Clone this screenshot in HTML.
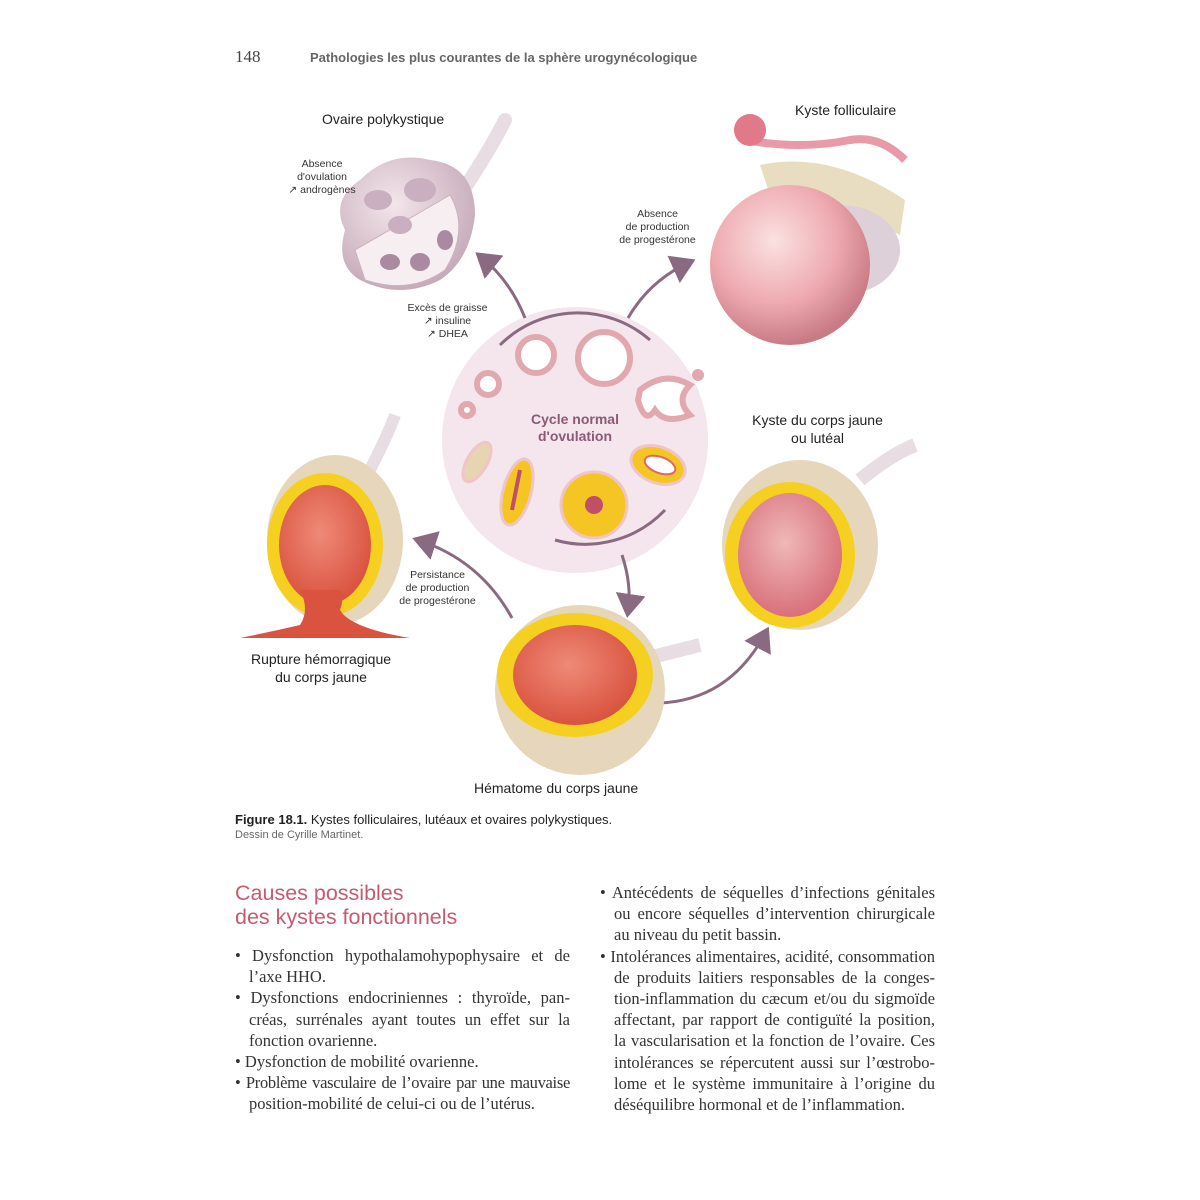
<!DOCTYPE html>
<html><head><meta charset="utf-8"><style>
body{margin:0;width:1200px;height:1200px;background:#fff;position:relative;overflow:hidden;font-family:"Liberation Sans",sans-serif;}
.a{position:absolute;white-space:nowrap;}
.lab{font-size:14px;color:#222;text-align:center;line-height:18px;}
.sm{font-size:10.5px;color:#333;text-align:center;line-height:13px;}
.ser{font-family:"Liberation Serif",serif;font-size:16.5px;color:#333;line-height:21.2px;}
.j{text-align:justify;text-align-last:justify;display:block;white-space:nowrap;}
.col{position:absolute;white-space:nowrap;}
</style></head><body>
<div class="a ser" style="left:235px;top:46px;font-size:17px;color:#444">148</div>
<div class="a" style="left:310px;top:50px;font-size:13px;font-weight:bold;color:#666">Pathologies les plus courantes de la sphère urogynécologique</div>

<svg width="1200" height="800" style="position:absolute;left:0;top:0">
<defs>
<radialGradient id="pk" cx="40%" cy="35%" r="65%"><stop offset="0" stop-color="#fbe1e1"/><stop offset="0.6" stop-color="#eeaab0"/><stop offset="1" stop-color="#c97b85"/></radialGradient>
<radialGradient id="ov" cx="40%" cy="35%" r="70%"><stop offset="0" stop-color="#f3e6ea"/><stop offset="1" stop-color="#c3a7b6"/></radialGradient>
<radialGradient id="bl" cx="45%" cy="40%" r="60%"><stop offset="0" stop-color="#ef8a78"/><stop offset="1" stop-color="#d9533f"/></radialGradient>
<radialGradient id="lu" cx="45%" cy="40%" r="60%"><stop offset="0" stop-color="#f0b8b8"/><stop offset="1" stop-color="#d8707a"/></radialGradient>
<marker id="ar" markerWidth="10" markerHeight="10" refX="6" refY="5" orient="auto"><path d="M0,0 L8,5 L0,10 Z" fill="#8a6a80"/></marker>
</defs>
<circle cx="575" cy="440" r="133" fill="#f4e6ec"/>
<g fill="none" stroke="#8a6a80" stroke-width="3">
<path d="M500,345 A110,110 0 0 1 650,340"/>
<path d="M665,510 A110,110 0 0 1 555,540"/>
<path d="M525,318 Q510,280 480,256" marker-end="url(#ar)"/>
<path d="M628,318 Q650,280 690,262" marker-end="url(#ar)"/>
<path d="M622,555 Q632,585 628,612" marker-end="url(#ar)"/>
<path d="M512,618 Q480,560 418,540" marker-end="url(#ar)"/>
<path d="M660,703 Q730,700 766,632" marker-end="url(#ar)"/>
</g>
<g stroke="#e2a8b0" stroke-width="6" fill="#fff">
<circle cx="536" cy="355" r="18"/><circle cx="604" cy="358" r="26"/>
<circle cx="488" cy="384" r="11"/><circle cx="467" cy="410" r="6"/>
<circle cx="698" cy="375" r="3"/>
</g>
<path d="M640,390 Q665,370 690,385 Q675,400 690,415 Q665,425 655,410 Q645,425 638,400Z" fill="#fff" stroke="#e2a8b0" stroke-width="6"/>
<ellipse cx="477" cy="462" rx="10" ry="22" transform="rotate(30 477 462)" fill="#e6d5b0" stroke="#f0c5ca" stroke-width="3"/>
<ellipse cx="517" cy="492" rx="14" ry="34" transform="rotate(15 517 492)" fill="#f5c523" stroke="#f0c5ca" stroke-width="3"/>
<path d="M520,470 L512,510" stroke="#c0506a" stroke-width="4"/>
<circle cx="594" cy="505" r="33" fill="#f5c523" stroke="#f0c5ca" stroke-width="3"/>
<circle cx="594" cy="505" r="9" fill="#c0506a"/>
<ellipse cx="658" cy="465" rx="28" ry="18" transform="rotate(20 658 465)" fill="#f5c523" stroke="#f0c5ca" stroke-width="3"/>
<ellipse cx="660" cy="465" rx="16" ry="8" transform="rotate(20 660 465)" fill="#fff" stroke="#d66" stroke-width="2"/>
<path d="M460,195 Q490,150 505,120" stroke="#e8dde2" stroke-width="14" fill="none" stroke-linecap="round"/>
<path d="M345,230 Q330,200 360,180 Q390,150 430,160 Q475,165 475,215 Q470,260 440,280 Q400,300 360,280 Q335,265 345,230Z" fill="url(#ov)"/>
<path d="M355,250 L450,195 Q470,230 445,270 Q410,295 365,280Z" fill="#f6eef0" stroke="#ccb0bc"/>
<g fill="#a98aa0"><ellipse cx="390" cy="262" rx="10" ry="8"/><ellipse cx="420" cy="262" rx="10" ry="9"/><ellipse cx="445" cy="240" rx="8" ry="10"/><ellipse cx="378" cy="200" rx="14" ry="10" fill="#c9afc0"/><ellipse cx="420" cy="190" rx="16" ry="12" fill="#c9afc0"/><ellipse cx="400" cy="225" rx="12" ry="9" fill="#c9afc0"/></g>
<path d="M760,165 Q830,150 905,200 L900,235 Q830,200 770,195Z" fill="#e8ddc0"/>
<path d="M745,140 Q800,150 850,140 Q880,135 905,160" stroke="#e89aa8" stroke-width="8" fill="none"/>
<circle cx="750" cy="130" r="16" fill="#e07a88"/>
<ellipse cx="840" cy="250" rx="60" ry="45" fill="#ddd0d8"/>
<circle cx="790" cy="265" r="80" fill="url(#pk)"/>
<path d="M370,470 Q390,430 395,415" stroke="#e8dde2" stroke-width="12" fill="none"/>
<ellipse cx="335" cy="540" rx="68" ry="85" fill="#e6d6bc"/>
<ellipse cx="325" cy="545" rx="58" ry="72" fill="#f5d020"/>
<ellipse cx="325" cy="545" rx="46" ry="60" fill="url(#bl)"/>
<path d="M300,590 Q310,610 300,625 Q270,632 240,638 L410,638 Q350,628 340,610 Q345,595 340,590Z" fill="#d9533f"/>
<path d="M640,660 Q680,650 700,645" stroke="#e8dde2" stroke-width="14" fill="none"/>
<ellipse cx="580" cy="690" rx="85" ry="85" fill="#e6d6bc"/>
<ellipse cx="575" cy="675" rx="78" ry="62" fill="#f5d020"/>
<ellipse cx="575" cy="675" rx="62" ry="50" fill="url(#bl)"/>
<path d="M860,480 Q890,455 915,445" stroke="#e8dde2" stroke-width="14" fill="none"/>
<ellipse cx="800" cy="545" rx="78" ry="85" fill="#e6d6bc"/>
<ellipse cx="790" cy="555" rx="65" ry="73" fill="#f5d020"/>
<ellipse cx="790" cy="555" rx="52" ry="62" fill="url(#lu)"/>
</svg>

<div class="a lab" style="left:322px;top:110px">Ovaire polykystique</div>
<div class="a lab" style="left:795px;top:101px">Kyste folliculaire</div>
<div class="a lab" style="left:740px;top:411px;width:155px">Kyste du corps jaune<br>ou lutéal</div>
<div class="a lab" style="left:240px;top:650px;width:162px">Rupture hémorragique<br>du corps jaune</div>
<div class="a lab" style="left:474px;top:779px">Hématome du corps jaune</div>
<div class="a" style="left:520px;top:411px;width:110px;text-align:center;font-size:14px;font-weight:bold;color:#8a5a78;line-height:17px">Cycle normal<br>d'ovulation</div>
<div class="a sm" style="left:282px;top:158px;width:80px">Absence<br>d'ovulation<br>↗ androgènes</div>
<div class="a sm" style="left:610px;top:208px;width:95px">Absence<br>de production<br>de progestérone</div>
<div class="a sm" style="left:400px;top:302px;width:95px">Excès de graisse<br>↗ insuline<br>↗ DHEA</div>
<div class="a sm" style="left:390px;top:569px;width:95px">Persistance<br>de production<br>de progestérone</div>

<div class="a" style="left:235px;top:812px;font-size:13px;color:#222"><b>Figure 18.1.</b> Kystes folliculaires, lutéaux et ovaires polykystiques.</div>
<div class="a" style="left:235px;top:829px;font-size:11px;color:#666">Dessin de Cyrille Martinet.</div>

<div class="a" style="left:235px;top:881px;font-size:21.5px;color:#c65a70;line-height:24px">Causes possibles<br>des kystes fonctionnels</div>

<div class="col ser" style="left:235px;top:945px;width:335px">
<span class="j">• Dysfonction hypothalamohypophysaire et de</span>
<span style="padding-left:14px">l’axe HHO.</span><br>
<span class="j">• Dysfonctions endocriniennes : thyroïde, pan-</span>
<span class="j" style="padding-left:14px">créas, surrénales ayant toutes un effet sur la</span>
<span style="padding-left:14px">fonction ovarienne.</span><br>
<span>• Dysfonction de mobilité ovarienne.</span><br>
<span class="j" style="letter-spacing:-0.3px">• Problème vasculaire de l’ovaire par une mauvaise</span>
<span style="padding-left:14px">position-mobilité de celui-ci ou de l’utérus.</span>
</div>
<div class="col ser" style="left:600px;top:882px;width:335px">
<span class="j">• Antécédents de séquelles d’infections génitales</span>
<span class="j" style="padding-left:14px">ou encore séquelles d’intervention chirurgicale</span>
<span style="padding-left:14px">au niveau du petit bassin.</span><br>
<span class="j">• Intolérances alimentaires, acidité, consommation</span>
<span class="j" style="padding-left:14px">de produits laitiers responsables de la conges-</span>
<span class="j" style="padding-left:14px">tion-inflammation du cæcum et/ou du sigmoïde</span>
<span class="j" style="padding-left:14px">affectant, par rapport de contiguïté la position,</span>
<span class="j" style="padding-left:14px">la vascularisation et la fonction de l’ovaire. Ces</span>
<span class="j" style="padding-left:14px">intolérances se répercutent aussi sur l’œstrobo-</span>
<span class="j" style="padding-left:14px">lome et le système immunitaire à l’origine du</span>
<span style="padding-left:14px">déséquilibre hormonal et de l’inflammation.</span>
</div>
</body></html>
